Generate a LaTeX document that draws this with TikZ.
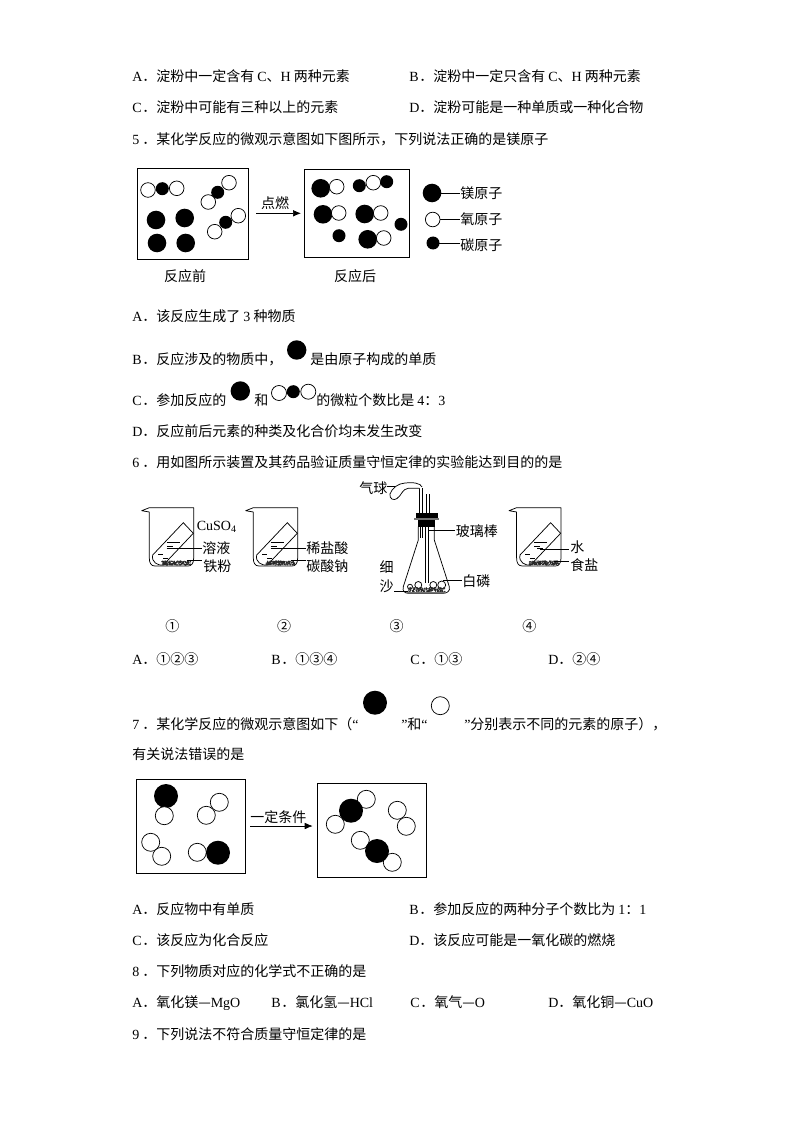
\documentclass[tikz,border=0pt]{standalone}
\usepackage{fontspec}
\setmainfont{Noto Sans CJK SC}
\newfontfamily\lat{Liberation Serif}
\usetikzlibrary{arrows.meta}
\newcommand{\Opt}[1]{\makebox[7.5pt][l]{\lat #1}}
\newcommand{\La}[1]{{\lat #1}}
\tikzset{
  txt/.style={anchor=base west,inner sep=0pt,yshift=-0.75pt,font=\fontsize{10.5pt}{12pt}\selectfont},
  lbl/.style={anchor=center,inner sep=0pt,font=\fontsize{10.5pt}{12pt}\selectfont},
  ln/.style={draw=black,line width=0.55pt},
  wa/.style={draw=black,fill=white,line width=0.55pt},
  ba/.style={fill=black},
  arr/.style={line width=0.55pt,-{Latex[length=6pt,width=5pt]}}
}
\newcommand{\WA}[3]{\path[wa] (#1,#2) circle[radius=#3];}
\newcommand{\BA}[3]{\path[ba] (#1,#2) circle[radius=#3];}
\newcommand{\Powder}[4]{%
  \foreach \i in {1,...,170}{%
    \pgfmathsetmacro{\px}{#1+rnd*(#2-#1)}%
    \pgfmathsetmacro{\py}{#3+rnd*(#4-#3)}%
    \fill[black!85] (\px,\py) circle[radius=0.7];
  }}
\newcommand{\Beaker}{%
  \path[ln,line join=round] (141.7,510.7) -- (149.3,507.7) -- (193.7,507.7) -- (193.7,558)
    .. controls (193.7,564) and (191,566) .. (188,566) -- (155,566)
    .. controls (151,566) and (149.3,563) .. (149.3,558) -- (149.3,512) -- cycle;
  \path[ln] (183.3,522.7) -- (193.3,533.3) -- (163.3,565)
    .. controls (158,566) and (151,562) .. (152.7,555) -- cycle;
  \path[ln] (166.7,542.7) -- (180,542.7);
  \path[ln] (167,546) -- (173,546);
  \path[ln] (170,548.3) -- (176,548.3);
  \path[ln] (158,554.5) -- (163,554.5);
  \path[ln] (163,558.5) -- (168,558.5);
  \Powder{162}{191}{561}{565}
}
\begin{document}
\begin{tikzpicture}[x=0.75pt,y=-0.75pt]
\useasboundingbox (0,0) rectangle (794,1123);
\fill[white] (0,0) rectangle (794,1123);
\pgfmathsetseed{7}
% ---- text rows
\node[txt] (q4a) at (132,81) {\Opt{A}．淀粉中一定含有 \La{C}、\La{H} 两种元素};
\node[txt] (q4b) at (409,81) {\Opt{B}．淀粉中一定只含有 \La{C}、\La{H} 两种元素};
\node[txt] (q4c) at (132,112) {\Opt{C}．淀粉中可能有三种以上的元素};
\node[txt] (q4d) at (409,112) {\Opt{D}．淀粉可能是一种单质或一种化合物};
\node[txt] (q5) at (132,144) {\Opt{5}．某化学反应的微观示意图如下图所示，下列说法正确的是镁原子};
\node[txt] (q5a) at (132,320) {\Opt{A}．该反应生成了 \La{3} 种物质};
\node[txt] (q5b) at (132,363) {\Opt{B}．反应涉及的物质中，};
\node[txt] (q5b2) at (310,363) {是由原子构成的单质};
\node[txt] (q5c) at (132,404) {\Opt{C}．参加反应的};
\node[txt] (q5c2) at (254,404) {和};
\node[txt] (q5c3) at (316,404) {的微粒个数比是 \La{4}：\La{3}};
\node[txt] (q5d) at (132,435) {\Opt{D}．反应前后元素的种类及化合价均未发生改变};
\node[txt] (q6) at (132,466) {\Opt{6}．用如图所示装置及其药品验证质量守恒定律的实验能达到目的的是};
\node[txt] (q6a) at (132,663) {\Opt{A}．①②③};
\node[txt] (q6b) at (271,663) {\Opt{B}．①③④};
\node[txt] (q6c) at (410,663) {\Opt{C}．①③};
\node[txt] (q6d) at (548,663) {\Opt{D}．②④};
\node[txt] (q7) at (132,728) {\Opt{7}．某化学反应的微观示意图如下（\La{“}};
\node[txt] (q7b) at (401,728) {\La{”}和\La{“}};
\node[txt] (q7c) at (464,728) {\La{”}分别表示不同的元素的原子），};
\node[txt] (q7d) at (132,758) {有关说法错误的是};
\node[txt] (q7a1) at (132,913) {\Opt{A}．反应物中有单质};
\node[txt] (q7a2) at (409,913) {\Opt{B}．参加反应的两种分子个数比为 \La{1}：\La{1}};
\node[txt] (q7a3) at (132,944) {\Opt{C}．该反应为化合反应};
\node[txt] (q7a4) at (409,944) {\Opt{D}．该反应可能是一氧化碳的燃烧};
\node[txt] (q8) at (132,975) {\Opt{8}．下列物质对应的化学式不正确的是};
\node[txt] (q8a) at (132,1006) {\Opt{A}．氧化镁—\La{MgO}};
\node[txt] (q8b) at (271,1006) {\Opt{B}．氯化氢—\La{HCl}};
\node[txt] (q8c) at (410,1006) {\Opt{C}．氧气—\La{O}};
\node[txt] (q8d) at (548,1006) {\Opt{D}．氧化铜—\La{CuO}};
\node[txt] (q9) at (132,1038) {\Opt{9}．下列说法不符合质量守恒定律的是};
% ---- Q5 diagram
\path[ln] (137.3,168.3) rectangle (248.3,259.3);
\path[ln] (304.3,169.3) rectangle (409.3,257.3);
\WA{148}{190}{7.3}\WA{176.7}{188.3}{7.3}\BA{162.3}{188.7}{6.5}
\WA{229}{182.7}{7.3}\WA{208.3}{202}{7.3}\BA{217.7}{192.3}{6.5}
\WA{238.3}{215.7}{7.3}\WA{214.7}{231.7}{7.3}\BA{225.7}{222.3}{6.5}
\BA{156}{220}{9.3}\BA{184.7}{218}{9.3}\BA{157}{243}{9.3}\BA{185.7}{243}{9.3}
\BA{320.7}{188.3}{9.3}\WA{336.7}{186.7}{7.3}
\BA{359.3}{185.7}{6.5}\BA{386.7}{181.7}{6.5}\WA{373.3}{182.7}{7.3}
\BA{323}{214.3}{9.3}\WA{338.7}{213}{7.3}
\BA{364.7}{214}{9.3}\WA{380.7}{213}{7.3}
\BA{401}{224.3}{6.5}\BA{339}{235.7}{6.5}
\BA{367.7}{239.3}{9.3}\WA{383.7}{238}{7.3}
\draw[arr] (256,213.3) -- (301,213.3);
\node[lbl] (dr) at (275,203.5) {点燃};
\node[lbl] (before) at (185,276) {反应前};
\node[lbl] (after) at (355,276) {反应后};
\node[lbl,anchor=west] (lmg) at (460,193) {镁原子};
\node[lbl,anchor=west] (lo) at (460,219.5) {氧原子};
\node[lbl,anchor=west] (lc) at (460,245) {碳原子};
\coordinate (amg) at (432,193);
\coordinate (ao) at (432.7,219.5);
\coordinate (ac) at (433,243);
\draw[ln] (amg) -- (lmg.west);
\draw[ln] (ao) -- (lo.west);
\draw[ln] (ac) -- (460,243);
\BA{432}{193}{9.3}\WA{432.7}{219.5}{7.3}\BA{433}{243}{6.5}
% ---- Q5 inline
\BA{296.7}{350}{9.7}\BA{240.3}{391}{9.7}
\WA{279}{393}{7.5}\WA{308.3}{391.7}{7.5}\BA{293.3}{391.7}{6.5}
% ---- Q6 beakers
\begin{scope}\Beaker\end{scope}
\begin{scope}[shift={(104,0)}]\Beaker\end{scope}
\begin{scope}[shift={(367.3,0)}]\Beaker\end{scope}
\path[ln] (166.7,548.3) -- (201.7,548.3);
\path[ln] (186.7,560.7) -- (201.7,560.7);
\path[ln] (270.7,548.3) -- (305.7,548.3);
\path[ln] (290.7,560.7) -- (305.7,560.7);
\path[ln] (540,549) -- (569.3,549);
\path[ln] (554,561) -- (569.3,561);
\node[lbl,anchor=west] (cuso) at (196.5,527) {\La{CuSO}\raisebox{-1.2pt}{\fontsize{7.5pt}{8pt}\selectfont\La{4}}};
\node[lbl,anchor=west] (l1) at (202,548) {溶液};
\node[lbl,anchor=west] (l2) at (203,566) {铁粉};
\node[lbl,anchor=west] (l3) at (306,548) {稀盐酸};
\node[lbl,anchor=west] (l4) at (306,566) {碳酸钠};
\node[lbl,anchor=west] (l5) at (570,547) {水};
\node[lbl,anchor=west] (l6) at (570,565) {食盐};
% ---- flask
\path[ln] (419.3,516) -- (419.3,486.7);
\path[ln] (422,516) -- (422,488.3);
\path[ln] (426,516) -- (426,494);
\path[ln] (429.3,516) -- (429.3,494);
\path[ln,line join=round,fill=white] (422,487) .. controls (421,483) and (412,482) .. (405,483)
  .. controls (398,483.5) and (392,488) .. (390,494)
  .. controls (389,499) and (394,501) .. (397,498.5)
  .. controls (402,495) and (402,489) .. (408.3,488.3) -- (419.3,488.3);
\fill[black] (416,512.7) rectangle (437.7,517.7);
\fill[black!55] (414,517.7) rectangle (439,520);
\fill[black] (418.3,520) rectangle (435,526.7);
\path[ln,line join=round] (418.3,526.7) -- (418.3,540) -- (403.3,586.7)
  .. controls (402,591) and (405,593.3) .. (408.3,593.3) -- (443.3,593.3)
  .. controls (447,593.3) and (450.5,591) .. (449.3,586.7) -- (434.3,540) -- (434.3,526.7);
\path[ln] (420,526.7) -- (420,538);
\path[ln] (422.3,526.7) -- (422.3,538);
\path[ln] (425,526.7) -- (425,583.3);
\path[ln] (428.3,526.7) -- (428.3,583.3);
\WA{410}{586.7}{2.5}\WA{418.3}{585}{3.5}\WA{433.3}{585}{3.5}\WA{441.7}{585}{4}
\Powder{408}{445}{587.5}{592}
\fill[black!55] (406,591.8) rectangle (446,593.3);
\path[ln] (386.7,486.7) -- (395,486.7);
\path[ln] (428.3,530) -- (455,530);
\path[ln] (443.3,580.7) -- (461.7,580.7);
\path[ln] (394,591.3) -- (408.3,591.3);
\node[lbl,anchor=west] (bal) at (359,488) {气球};
\node[lbl,anchor=west] (rod) at (455.5,531.5) {玻璃棒};
\node[lbl,anchor=west] (wp) at (462,580.7) {白磷};
\node[lbl] (xi) at (386.5,566.7) {细};
\node[lbl] (sha) at (386.5,586.7) {沙};
\node[lbl] (n1) at (172.3,626.5) {①};
\node[lbl] (n2) at (284,626.5) {②};
\node[lbl] (n3) at (396.7,626.5) {③};
\node[lbl] (n4) at (529.3,626.5) {④};
% ---- Q7
\BA{375}{702.7}{12}\WA{440.3}{705.7}{9}
\path[ln] (136.7,779.3) rectangle (245.7,873.3);
\path[ln] (317.7,783.3) rectangle (426.7,877.3);
\BA{166}{796}{12}\WA{164.3}{815.7}{9}
\WA{219.3}{802.3}{9}\WA{206.3}{815.3}{9}
\WA{150.7}{842.3}{9}\WA{161.7}{856.3}{9}
\WA{197.3}{852.3}{9}\BA{218}{852.7}{12}
\WA{366.3}{799.3}{9}\WA{335.3}{824.3}{9}\BA{351}{810.7}{12}
\WA{397.3}{810.3}{9}\WA{406.3}{826.3}{9}
\WA{360.3}{840.3}{9}\WA{392.3}{862.3}{9}\BA{377}{851}{12}
\draw[arr] (250,826) -- (312.7,826);
\node[lbl] (cond) at (278.3,816.7) {一定条件};
\end{tikzpicture}
\end{document}
